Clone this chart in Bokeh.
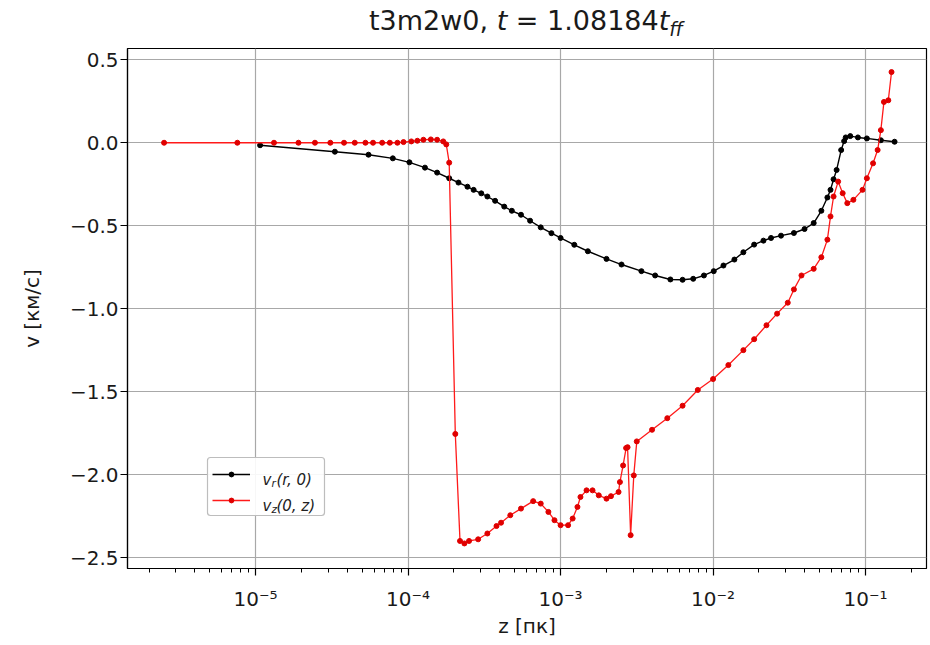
from bokeh.plotting import figure
from bokeh.models import (FixedTicker, CustomJSTickFormatter, Label, Legend,
                          LegendItem, Range1d, Div, BoxAnnotation)
from bokeh.layouts import column
from bokeh.embed import file_html
from bokeh.resources import INLINE

# ---------------- data ----------------
vr_r = [1.07e-5, 3.31e-5, 5.50e-5, 7.94e-5, 1.02e-4, 1.29e-4, 1.55e-4, 1.86e-4,
        2.14e-4, 2.45e-4, 2.69e-4, 3.02e-4, 3.31e-4, 3.72e-4, 4.27e-4, 4.79e-4,
        5.50e-4, 6.31e-4, 7.41e-4, 8.71e-4, 1.00e-3, 1.23e-3, 1.51e-3, 2.00e-3,
        2.51e-3, 3.39e-3, 4.17e-3, 5.25e-3, 6.31e-3, 7.41e-3, 8.71e-3, 1.01e-2,
        1.17e-2, 1.38e-2, 1.58e-2, 1.86e-2, 2.14e-2, 2.40e-2, 2.79e-2, 3.39e-2,
        3.98e-2, 4.57e-2, 5.13e-2, 5.62e-2, 5.89e-2, 6.17e-2, 6.46e-2, 6.92e-2,
        7.24e-2, 7.41e-2, 7.94e-2, 8.91e-2, 0.102, 0.126, 0.155]
vr_v = [-0.015, -0.054, -0.072, -0.094, -0.118, -0.150, -0.180, -0.214,
        -0.240, -0.265, -0.284, -0.305, -0.324, -0.350, -0.385, -0.410,
        -0.434, -0.470, -0.510, -0.545, -0.574, -0.615, -0.654, -0.700,
        -0.734, -0.774, -0.800, -0.824, -0.826, -0.820, -0.800, -0.774,
        -0.740, -0.704, -0.660, -0.614, -0.590, -0.574, -0.560, -0.544,
        -0.520, -0.484, -0.410, -0.330, -0.284, -0.220, -0.164, -0.044,
        0.010, 0.032, 0.040, 0.032, 0.026, 0.015, 0.006]

vz_z = [2.51e-6, 7.59e-6, 1.32e-5, 1.91e-5, 2.45e-5, 3.09e-5, 3.80e-5, 4.47e-5,
        5.25e-5, 5.89e-5, 6.76e-5, 7.59e-5, 8.51e-5, 9.33e-5, 1.05e-4, 1.15e-4,
        1.26e-4, 1.41e-4, 1.55e-4, 1.70e-4, 1.78e-4, 1.86e-4, 2.04e-4, 2.19e-4,
        2.34e-4, 2.51e-4, 2.88e-4, 3.31e-4, 3.80e-4, 4.07e-4, 4.68e-4, 5.50e-4,
        6.61e-4, 7.41e-4, 8.32e-4, 9.12e-4, 1.00e-3, 1.12e-3, 1.20e-3, 1.29e-3,
        1.35e-3, 1.48e-3, 1.62e-3, 1.78e-3, 2.00e-3, 2.14e-3, 2.40e-3, 2.45e-3,
        2.57e-3, 2.69e-3, 2.75e-3, 2.88e-3, 3.02e-3, 3.16e-3, 3.98e-3, 5.01e-3,
        6.31e-3, 7.94e-3, 1.00e-2, 1.26e-2, 1.58e-2, 1.86e-2, 2.24e-2, 2.63e-2,
        3.09e-2, 3.39e-2, 3.80e-2, 4.57e-2, 5.13e-2, 5.62e-2, 5.89e-2, 6.17e-2,
        6.61e-2, 7.08e-2, 7.59e-2, 8.32e-2, 9.55e-2, 0.102, 0.112, 0.120,
        0.126, 0.132, 0.141, 0.148]
vz_v = [0.0, 0.0, 0.0, 0.0, 0.0, 0.0, 0.0, 0.0,
        0.0, 0.0, 0.0, 0.0, 0.0, 0.004, 0.008, 0.012,
        0.018, 0.020, 0.018, 0.008, -0.010, -0.120, -1.755, -2.400,
        -2.415, -2.400, -2.390, -2.355, -2.310, -2.290, -2.245, -2.205,
        -2.160, -2.175, -2.225, -2.275, -2.305, -2.305, -2.265, -2.195,
        -2.135, -2.095, -2.095, -2.125, -2.145, -2.130, -2.105, -2.045,
        -1.945, -1.840, -1.835, -2.365, -2.005, -1.800, -1.730, -1.660,
        -1.585, -1.490, -1.424, -1.340, -1.250, -1.184, -1.100, -1.030,
        -0.964, -0.884, -0.800, -0.760, -0.690, -0.584, -0.444, -0.324,
        -0.234, -0.304, -0.364, -0.344, -0.284, -0.214, -0.124, -0.044,
        0.076, 0.246, 0.256, 0.426]

x_ticks = [1e-5, 1e-4, 1e-3, 1e-2, 1e-1]
x_tick_labels = ["10\u207b\u2075", "10\u207b\u2074", "10\u207b\u00b3",
                 "10\u207b\u00b2", "10\u207b\u00b9"]
y_ticks = [0.5, 0.0, -0.5, -1.0, -1.5, -2.0, -2.5]
y_tick_labels = ["0.5", "0.0", "\u22120.5", "\u22121.0", "\u22121.5",
                 "\u22122.0", "\u22122.5"]

title_name = "t3m2w0, "
title_time = " = 1.08184"
x_label = "z [пк]"
y_label = "v [км/с]"
legend_labels = [("v", "r", "(r, 0)"), ("v", "z", "(0, z)")]

# ---------------- layout ----------------
FONT = "DejaVu Sans"
W, H = 930, 645
TITLE_H = 38
BL, BR, BT, BB = 127, 4, 48 - TITLE_H, 77
PH = H - TITLE_H
FW, FH = W - BL - BR, PH - BT - BB

p = figure(width=W, height=PH, x_axis_type="log", title=None,
           x_range=Range1d(1.445e-6, 0.251), y_range=Range1d(-2.566, 0.568),
           output_backend="svg", toolbar_location=None,
           min_border_left=BL, min_border_right=BR,
           min_border_top=BT, min_border_bottom=BB)
p.background_fill_color = "white"
p.border_fill_color = "white"
p.outline_line_color = "black"
p.outline_line_width = 1.2

minor = [k * 10.0 ** e for e in range(-7, 0) for k in range(2, 10)]
xa = p.xaxis[0]
xa.ticker = FixedTicker(ticks=x_ticks, minor_ticks=minor)
xa.formatter = CustomJSTickFormatter(args=dict(tv=x_ticks, tl=x_tick_labels), code="""
for (let i = 0; i < tv.length; i++) {
  if (Math.abs(tv[i] - tick) <= 1e-9 * Math.abs(tv[i])) return tl[i];
}
return "";
""")
ya = p.yaxis[0]
ya.ticker = FixedTicker(ticks=y_ticks)
ya.formatter = CustomJSTickFormatter(args=dict(tv=y_ticks, tl=y_tick_labels), code="""
for (let i = 0; i < tv.length; i++) {
  if (Math.abs(tv[i] - tick) <= 1e-9) return tl[i];
}
return "";
""")

for ax in (xa, ya):
    ax.axis_line_color = "black"
    ax.axis_line_width = 1.2
    ax.major_tick_line_color = "black"
    ax.minor_tick_line_color = "black"
    ax.major_tick_line_width = 1.2
    ax.minor_tick_line_width = 1.0
    ax.major_tick_in = 0
    ax.major_tick_out = 7
    ax.minor_tick_in = 0
    ax.minor_tick_out = 4
    ax.major_label_text_font = FONT
    ax.major_label_text_font_size = "20px"
    ax.major_label_text_color = "#1a1a1a"
    ax.axis_label_text_font = FONT
    ax.axis_label_text_font_size = "20px"
    ax.axis_label_text_font_style = "normal"
    ax.axis_label_text_color = "#1a1a1a"

xa.axis_label = x_label
xa.major_label_standoff = 11
xa.axis_label_standoff = 0
ya.axis_label = y_label
ya.major_label_standoff = 2
ya.axis_label_standoff = 23

p.xgrid.grid_line_color = "#a8a8a8"
p.ygrid.grid_line_color = "#a8a8a8"
p.xgrid.grid_line_width = 1.2
p.ygrid.grid_line_width = 1.2

# ---------------- series ----------------
l1 = p.line(vr_r, vr_v, line_color="black", line_width=1.4)
s1 = p.scatter(vr_r, vr_v, size=5, fill_color="black", line_color="black")
l2 = p.line(vz_z, vz_v, line_color="#ff1a1a", line_width=1.3)
s2 = p.scatter(vz_z, vz_v, size=5, fill_color="#e00000", line_color="#e00000")

# ---------------- legend ----------------
# frame box (drawn as an annotation so the legend texts sit on top of it)
BOX_L, BOX_R, BOX_B, BOX_T = 80, 197, 53, 111
p.add_layout(BoxAnnotation(left=BOX_L, right=BOX_R, bottom=BOX_B, top=BOX_T,
                           left_units="screen", right_units="screen",
                           bottom_units="screen", top_units="screen",
                           fill_color="white", fill_alpha=0.9,
                           line_color="#bdbdbd", line_alpha=1.0, line_width=1.2,
                           border_radius=3))
GX, GW, GH, SP = 85, 38, 12, 14
legend = Legend(items=[LegendItem(label=" ", renderers=[l1, s1]),
                       LegendItem(label=" ", renderers=[l2, s2])],
                location=(GX, 62), orientation="vertical",
                glyph_width=GW, glyph_height=GH, label_width=1,
                label_height=GH, label_standoff=0, padding=0,
                spacing=SP, margin=0, label_text_font_size="8px",
                border_line_alpha=0, background_fill_alpha=0)
p.add_layout(legend)

row_c = [94, 68]
tx0 = 135
for (base, sub, rest), yc in zip(legend_labels, row_c):
    yb = yc - 5
    for txt, dx, dy, fs in ((base, 0, 0, "15px"), (sub, 8.9, -3.5, "10.5px"),
                            (rest, 13.9, 0, "15px")):
        p.add_layout(Label(x=tx0 + dx, y=yb + dy, x_units="screen", y_units="screen",
                           text=txt, text_font=FONT,
                           text_font_style="italic", text_font_size=fs,
                           text_color="#222222", text_baseline="alphabetic",
                           text_align="left"))

# ---------------- title (mixed upright / italic, as HTML text) ----------------
cx = BL + FW / 2
title_html = (
    f'<div style="margin-left:{cx - 260:.0f}px; width:520px; text-align:center; '
    f'white-space:nowrap; font-family:\'DejaVu Sans\'; font-size:27px; '
    f'line-height:27px; color:#1a1a1a; padding-top:7px;">'
    f'{title_name}<i>t</i>{title_time}<i>t<sub style="font-size:19px; '
    f'line-height:0;">ff</sub></i></div>'
)
title = Div(text=title_html, width=W, height=TITLE_H, margin=0)

layout = column(title, p, spacing=0)
open("out.html", "w").write(file_html(layout, INLINE))
